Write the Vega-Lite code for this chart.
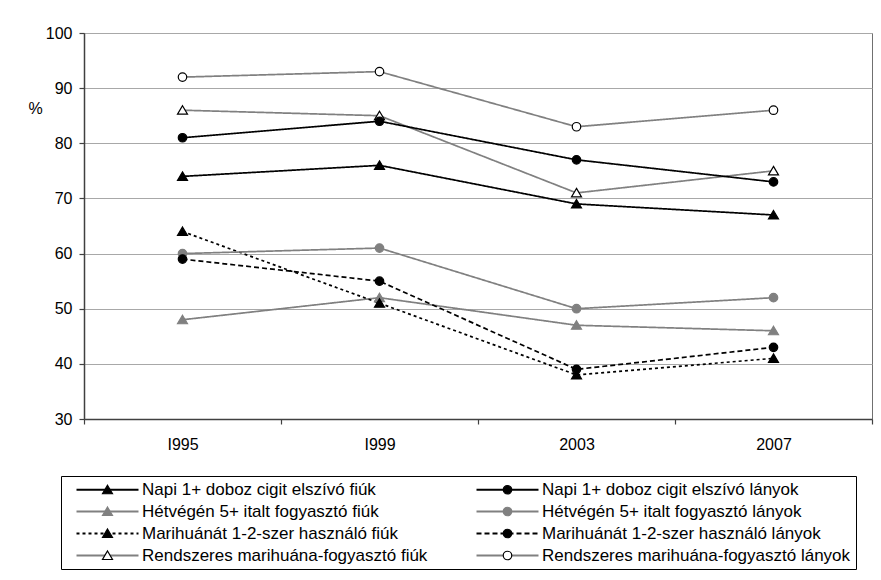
{
  "$schema": "https://vega.github.io/schema/vega-lite/v6.json",
  "width": 788,
  "height": 386,
  "autosize": {"type": "none"},
  "padding": {"left": 84, "top": 33, "right": 9, "bottom": 161},
  "background": "white",
  "config": {
    "font": "Liberation Sans",
    "view": {"stroke": "#707070", "strokeWidth": 1}
  },
  "data": {
    "values": [
      {"series": "Napi 1+ doboz cigit elszívó fiúk", "year": "1995", "value": 74},
      {"series": "Napi 1+ doboz cigit elszívó fiúk", "year": "1999", "value": 76},
      {"series": "Napi 1+ doboz cigit elszívó fiúk", "year": "2003", "value": 69},
      {"series": "Napi 1+ doboz cigit elszívó fiúk", "year": "2007", "value": 67},
      {"series": "Hétvégén 5+ italt fogyasztó fiúk", "year": "1995", "value": 48},
      {"series": "Hétvégén 5+ italt fogyasztó fiúk", "year": "1999", "value": 52},
      {"series": "Hétvégén 5+ italt fogyasztó fiúk", "year": "2003", "value": 47},
      {"series": "Hétvégén 5+ italt fogyasztó fiúk", "year": "2007", "value": 46},
      {"series": "Marihuánát 1-2-szer használó fiúk", "year": "1995", "value": 64},
      {"series": "Marihuánát 1-2-szer használó fiúk", "year": "1999", "value": 51},
      {"series": "Marihuánát 1-2-szer használó fiúk", "year": "2003", "value": 38},
      {"series": "Marihuánát 1-2-szer használó fiúk", "year": "2007", "value": 41},
      {"series": "Rendszeres marihuána-fogyasztó fiúk", "year": "1995", "value": 86},
      {"series": "Rendszeres marihuána-fogyasztó fiúk", "year": "1999", "value": 85},
      {"series": "Rendszeres marihuána-fogyasztó fiúk", "year": "2003", "value": 71},
      {"series": "Rendszeres marihuána-fogyasztó fiúk", "year": "2007", "value": 75},
      {"series": "Napi 1+ doboz cigit elszívó lányok", "year": "1995", "value": 81},
      {"series": "Napi 1+ doboz cigit elszívó lányok", "year": "1999", "value": 84},
      {"series": "Napi 1+ doboz cigit elszívó lányok", "year": "2003", "value": 77},
      {"series": "Napi 1+ doboz cigit elszívó lányok", "year": "2007", "value": 73},
      {"series": "Hétvégén 5+ italt fogyasztó lányok", "year": "1995", "value": 60},
      {"series": "Hétvégén 5+ italt fogyasztó lányok", "year": "1999", "value": 61},
      {"series": "Hétvégén 5+ italt fogyasztó lányok", "year": "2003", "value": 50},
      {"series": "Hétvégén 5+ italt fogyasztó lányok", "year": "2007", "value": 52},
      {"series": "Marihuánát 1-2-szer használó lányok", "year": "1995", "value": 59},
      {"series": "Marihuánát 1-2-szer használó lányok", "year": "1999", "value": 55},
      {"series": "Marihuánát 1-2-szer használó lányok", "year": "2003", "value": 39},
      {"series": "Marihuánát 1-2-szer használó lányok", "year": "2007", "value": 43},
      {"series": "Rendszeres marihuána-fogyasztó lányok", "year": "1995", "value": 92},
      {"series": "Rendszeres marihuána-fogyasztó lányok", "year": "1999", "value": 93},
      {"series": "Rendszeres marihuána-fogyasztó lányok", "year": "2003", "value": 83},
      {"series": "Rendszeres marihuána-fogyasztó lányok", "year": "2007", "value": 86}
    ]
  },
  "encoding": {
    "x": {
      "field": "year",
      "type": "ordinal",
      "sort": ["1995", "1999", "2003", "2007"],
      "scale": {"type": "band", "paddingInner": 0, "paddingOuter": 0},
      "axis": {
        "title": null,
        "tickBand": "extent",
        "grid": false,
        "domainColor": "#404040",
        "domainWidth": 1.5,
        "tickColor": "#404040",
        "tickWidth": 1.2,
        "tickSize": 5,
        "labelFontSize": 16,
        "labelColor": "#000000",
        "labelPadding": 12,
        "labelAngle": 0,
        "labelExpr": "datum.label == '1995' ? 'I995' : datum.label == '1999' ? 'I999' : datum.label"
      }
    },
    "y": {
      "field": "value",
      "type": "quantitative",
      "scale": {"domain": [30, 100], "nice": false, "zero": false},
      "axis": {
        "title": "%",
        "values": [30, 40, 50, 60, 70, 80, 90, 100],
        "grid": true,
        "gridColor": "#a8a8a8",
        "gridWidth": 1,
        "domainColor": "#404040",
        "domainWidth": 1.5,
        "tickColor": "#404040",
        "tickWidth": 1.2,
        "tickSize": 5,
        "labelFontSize": 16,
        "labelColor": "#000000",
        "labelPadding": 7,
        "titleAngle": 0,
        "titleX": -49,
        "titleY": 75,
        "titleAlign": "center",
        "titleBaseline": "middle",
        "titleFontSize": 16,
        "titleFontWeight": "normal",
        "titleColor": "#000000"
      }
    }
  },
  "layer": [
    {
      "mark": {"type": "line", "strokeWidth": 1.7},
      "encoding": {
        "color": {
          "field": "series",
          "type": "nominal",
          "sort": null,
          "scale": {"range": ["#000000", "#808080", "#000000", "#808080", "#000000", "#808080", "#000000", "#808080"]},
          "legend": {
            "orient": "none", "legendX": -23, "legendY": 443, "columns": 2, "columnPadding": 38, "rowPadding": 4,
            "padding": 5, "strokeColor": "#000000", "fillColor": "white", "title": null,
            "symbolType": "M-6.2,0H6.2", "symbolSize": 100, "symbolStrokeWidth": 1.8, "symbolOffset": 33,
            "labelOffset": 26, "labelFontSize": 17, "labelColor": "#000000", "labelLimit": 500
          }
        },
        "strokeDash": {
          "field": "series",
          "type": "nominal",
          "sort": null,
          "scale": {"range": [[1, 0], [1, 0], [3, 3], [1, 0], [1, 0], [1, 0], [5, 3], [1, 0]]},
          "legend": {
            "orient": "none", "legendX": -23, "legendY": 443, "columns": 2, "columnPadding": 38, "rowPadding": 4,
            "padding": 5, "strokeColor": "#000000", "fillColor": "white", "title": null,
            "symbolType": "M-6.2,0H6.2", "symbolSize": 100, "symbolStrokeWidth": 1.8, "symbolOffset": 33,
            "labelOffset": 26, "labelFontSize": 17, "labelColor": "#000000", "labelLimit": 500
          }
        }
      }
    },
    {
      "mark": {"type": "point", "size": 100, "opacity": 1, "strokeWidth": 1.2},
      "encoding": {
        "shape": {
          "field": "series",
          "type": "nominal",
          "scale": {
            "domain": ["Napi 1+ doboz cigit elszívó fiúk", "Hétvégén 5+ italt fogyasztó fiúk", "Marihuánát 1-2-szer használó fiúk", "Rendszeres marihuána-fogyasztó fiúk", "Napi 1+ doboz cigit elszívó lányok", "Hétvégén 5+ italt fogyasztó lányok", "Marihuánát 1-2-szer használó lányok", "Rendszeres marihuána-fogyasztó lányok"],
            "range": [
              "M-6.2,0M6.2,0M0,-0.9L1,0.8L-1,0.8Z",
              "M-6.2,0M6.2,0M0,-0.9L1,0.8L-1,0.8Z",
              "M-6.2,0M6.2,0M0,-0.9L1,0.8L-1,0.8Z",
              "M-6.2,0M6.2,0M0,-0.9L1,0.8L-1,0.8Z",
              "M-6.2,0M6.2,0M0.85,0C0.85,0.4694,0.4694,0.85,0,0.85C-0.4694,0.85,-0.85,0.4694,-0.85,0C-0.85,-0.4694,-0.4694,-0.85,0,-0.85C0.4694,-0.85,0.85,-0.4694,0.85,0Z",
              "M-6.2,0M6.2,0M0.85,0C0.85,0.4694,0.4694,0.85,0,0.85C-0.4694,0.85,-0.85,0.4694,-0.85,0C-0.85,-0.4694,-0.4694,-0.85,0,-0.85C0.4694,-0.85,0.85,-0.4694,0.85,0Z",
              "M-6.2,0M6.2,0M0.85,0C0.85,0.4694,0.4694,0.85,0,0.85C-0.4694,0.85,-0.85,0.4694,-0.85,0C-0.85,-0.4694,-0.4694,-0.85,0,-0.85C0.4694,-0.85,0.85,-0.4694,0.85,0Z",
              "M-6.2,0M6.2,0M0.85,0C0.85,0.4694,0.4694,0.85,0,0.85C-0.4694,0.85,-0.85,0.4694,-0.85,0C-0.85,-0.4694,-0.4694,-0.85,0,-0.85C0.4694,-0.85,0.85,-0.4694,0.85,0Z"
            ]
          },
          "legend": {
            "orient": "none", "legendX": -23, "legendY": 443, "columns": 2, "columnPadding": 38, "rowPadding": 4,
            "padding": 5, "title": null, "symbolSize": 100, "symbolStrokeWidth": 1.2, "symbolOpacity": 1, "symbolOffset": 33,
            "labelOffset": 26, "labelFontSize": 17, "labelOpacity": 0, "labelLimit": 500
          }
        },
        "fill": {
          "field": "series",
          "type": "nominal",
          "scale": {
            "domain": ["Napi 1+ doboz cigit elszívó fiúk", "Hétvégén 5+ italt fogyasztó fiúk", "Marihuánát 1-2-szer használó fiúk", "Rendszeres marihuána-fogyasztó fiúk", "Napi 1+ doboz cigit elszívó lányok", "Hétvégén 5+ italt fogyasztó lányok", "Marihuánát 1-2-szer használó lányok", "Rendszeres marihuána-fogyasztó lányok"],
            "range": ["#000000", "#808080", "#000000", "#ffffff", "#000000", "#808080", "#000000", "#ffffff"]
          },
          "legend": {
            "orient": "none", "legendX": -23, "legendY": 443, "columns": 2, "columnPadding": 38, "rowPadding": 4,
            "padding": 5, "title": null, "symbolSize": 100, "symbolStrokeWidth": 1.2, "symbolOpacity": 1, "symbolOffset": 33,
            "labelOffset": 26, "labelFontSize": 17, "labelOpacity": 0, "labelLimit": 500
          }
        },
        "stroke": {
          "field": "series",
          "type": "nominal",
          "scale": {
            "domain": ["Napi 1+ doboz cigit elszívó fiúk", "Hétvégén 5+ italt fogyasztó fiúk", "Marihuánát 1-2-szer használó fiúk", "Rendszeres marihuána-fogyasztó fiúk", "Napi 1+ doboz cigit elszívó lányok", "Hétvégén 5+ italt fogyasztó lányok", "Marihuánát 1-2-szer használó lányok", "Rendszeres marihuána-fogyasztó lányok"],
            "range": ["#000000", "#808080", "#000000", "#000000", "#000000", "#808080", "#000000", "#000000"]
          },
          "legend": {
            "orient": "none", "legendX": -23, "legendY": 443, "columns": 2, "columnPadding": 38, "rowPadding": 4,
            "padding": 5, "title": null, "symbolSize": 100, "symbolStrokeWidth": 1.2, "symbolOpacity": 1, "symbolOffset": 33,
            "labelOffset": 26, "labelFontSize": 17, "labelOpacity": 0, "labelLimit": 500
          }
        }
      }
    }
  ]
}
